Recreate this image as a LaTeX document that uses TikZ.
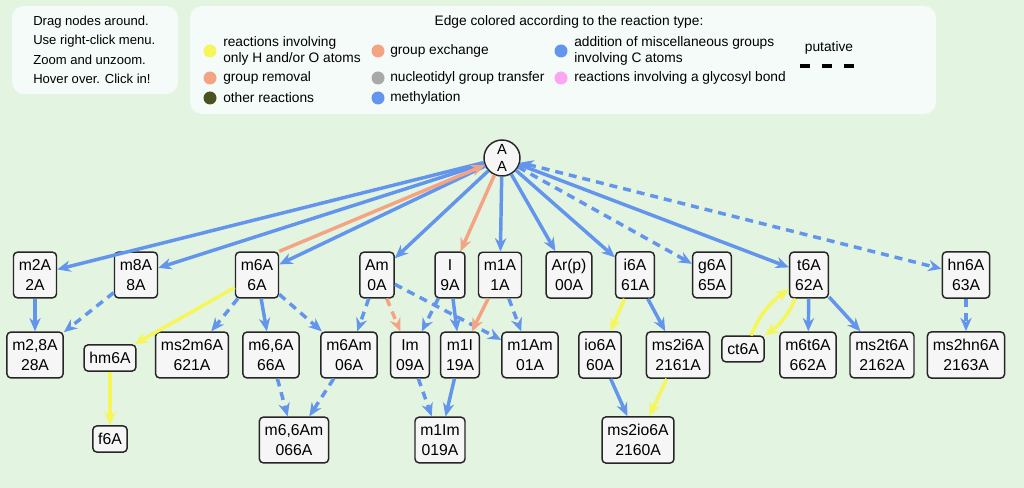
\documentclass[tikz,border=0pt]{standalone}
\usepackage{fontspec}
\setmainfont{Liberation Sans}
\usepackage{tikz}
\usetikzlibrary{arrows.meta}

\definecolor{bggreen}{HTML}{E3F4E0}
\definecolor{panel}{HTML}{F4FBF8}
\definecolor{boxfill}{HTML}{F6F6F6}
\definecolor{methblue}{HTML}{6495ED}
\definecolor{remorange}{HTML}{F4A483}
\definecolor{hoyellow}{HTML}{F6F65A}
\definecolor{otherolive}{HTML}{4B5222}
\definecolor{nucgray}{HTML}{A7A9A9}
\definecolor{glypink}{HTML}{FBA6F2}

\begin{document}
\begin{tikzpicture}[x=0.75pt,y=-0.75pt,
  nt/.style={draw=black!85,line width=1.1pt,rounded corners=3pt,fill=boxfill,
    align=center,font=\fontsize{11.8}{15}\selectfont,inner xsep=4pt,inner ysep=5.5pt},
  root/.style={draw=black!85,line width=1.1pt,circle,fill=boxfill,minimum size=27pt,
    inner sep=0pt,align=center,font=\fontsize{11}{12.5}\selectfont},
  meth/.style={draw=methblue,line width=2.6pt,-{Stealth[length=10pt,width=8.5pt]}},
  puta/.style={meth,dash pattern=on 6pt off 4.5pt},
  rem/.style={draw=remorange,line width=2.6pt,-{Stealth[length=10pt,width=8.5pt]}},
  hyd/.style={draw=hoyellow,line width=2.6pt,-{Stealth[length=10pt,width=8.5pt]}},
  legtext/.style={anchor=west,align=left,inner sep=0pt,font=\fontsize{10.3}{12.5}\selectfont},
  helptext/.style={anchor=west,inner sep=0pt,font=\fontsize{9.8}{10}\selectfont}]

% background and panels
\fill[bggreen] (0,0) rectangle (1024,488);
\fill[panel,rounded corners=9pt] (12,6) rectangle (178,94);
\fill[panel,rounded corners=9pt] (190,6) rectangle (936,114);

\node[helptext] (h1) at (33,22) {Drag nodes around.};
\node[helptext] (h2) at (33,41) {Use right-click menu.};
\node[helptext] (h3) at (33,60) {Zoom and unzoom.};
\node[helptext] (h4) at (33,79) {Hover over. Click in!};

% legend
\node[legtext,anchor=center] (legtitle) at (569,22) {Edge colored according to the reaction type:};
\fill[hoyellow] (210,51) circle (6.5);
\fill[remorange] (210,78) circle (6.5);
\fill[otherolive] (210,98) circle (6.5);
\fill[remorange] (378,51) circle (6.5);
\fill[nucgray] (378,78) circle (6.5);
\fill[methblue] (378,98) circle (6.5);
\fill[methblue] (561,51) circle (6.5);
\fill[glypink] (561,78) circle (6.5);
\node[legtext] (lg1) at (223,51) {reactions involving\\only H and/or O atoms};
\node[legtext] (lg2) at (223,78) {group removal};
\node[legtext] (lg3) at (223,98) {other reactions};
\node[legtext] (lg4) at (390,51) {group exchange};
\node[legtext] (lg5) at (390,78) {nucleotidyl group transfer};
\node[legtext] (lg6) at (390,98) {methylation};
\node[legtext] (lg7) at (574,51) {addition of miscellaneous groups\\involving C atoms};
\node[legtext] (lg8) at (574,78) {reactions involving a glycosyl bond};
\node[legtext,anchor=center] (lgput) at (829,48) {putative};
\draw[line width=3pt,dash pattern=on 7.5pt off 9pt] (800,66) -- (854,66);

% nodes
\node[root] (A) at (502,158) {A\\A};

\foreach \x/\n/\a/\b in {35/m2A/m2A/2A, 136/m8A/m8A/8A, 257/m6A/m6A/6A, 377/Am/Am/0A,
  450/I/I/9A, 500/m1A/m1A/1A, 569/Arp/Ar(p)/00A, 635/i6A/i6A/61A, 712/g6A/g6A/65A,
  809/t6A/t6A/62A, 966/hn6A/hn6A/63A}
  \node[nt] (\n) at (\x,275) {\a\\\b};

\foreach \x/\n/\a/\b in {35/m28A/{m2,8A}/28A, 192/ms2m6A/ms2m6A/621A, 271/m66A/{m6,6A}/66A,
  349/m6Am/m6Am/06A, 410/Im/Im/09A, 460/m1I/m1I/19A, 530/m1Am/m1Am/01A, 600/io6A/io6A/60A,
  678/ms2i6A/ms2i6A/2161A, 808/m6t6A/m6t6A/662A, 882/ms2t6A/ms2t6A/2162A,
  966/ms2hn6A/ms2hn6A/2163A}
  \node[nt] (\n) at (\x,355) {\a\\\b};

\node[nt] (hm6A) at (110,358) {hm6A};
\node[nt] (ct6A) at (743,349) {ct6A};
\node[nt] (f6A) at (110,439) {f6A};
\node[nt] (m66Am) at (294,440) {m6,6Am\\066A};
\node[nt] (m1Im) at (440,440) {m1Im\\019A};
\node[nt] (ms2io6A) at (638,440) {ms2io6A\\2160A};

% edges from A
\foreach \n in {m2A,m8A,m6A,Am,m1A,Arp,i6A,t6A}
  \draw[meth] (A) -- (\n);
\draw[rem] (m6A.north east) -- (A);
\draw[rem] (A) -- (I);
\draw[puta] (A) -- (g6A);
\draw[puta,{Stealth[length=10pt,width=8.5pt]}-{Stealth[length=10pt,width=8.5pt]}] (A) -- (hn6A);

% second row
\draw[meth] (m2A) -- (m28A);
\draw[puta] (m8A) -- (m28A);
\draw[hyd] (m6A) -- (hm6A);
\draw[puta] (m6A) -- (ms2m6A);
\draw[meth] (m6A) -- (m66A);
\draw[puta] (m6A) -- (m6Am);
\draw[puta] (Am) -- (m6Am);
\draw[rem,dash pattern=on 6pt off 4.5pt] (Am) -- (Im);
\draw[puta] (Am) -- (m1Am);
\draw[puta] (I) -- (Im);
\draw[meth] (I) -- (m1I);
\draw[rem] (m1A) -- (m1I);
\draw[puta] (m1A) -- (m1Am);
\draw[hyd] (i6A) -- (io6A);
\draw[meth] (i6A) -- (ms2i6A);
\draw[hyd] (ct6A.60) to[bend left=15] (t6A.215);
\draw[hyd] (t6A.240) to[bend left=15] (ct6A.north east);
\draw[meth] (t6A) -- (m6t6A);
\draw[meth] (t6A) -- (ms2t6A);
\draw[puta] (hn6A) -- (ms2hn6A);

% third row
\draw[hyd] (hm6A) -- (f6A);
\draw[puta] (m66A) -- (m66Am);
\draw[puta] (m6Am) -- (m66Am);
\draw[puta] (Im) -- (m1Im);
\draw[meth] (m1I) -- (m1Im);
\draw[meth] (io6A) -- (ms2io6A);
\draw[hyd] (ms2i6A) -- (ms2io6A);
\end{tikzpicture}
\end{document}
